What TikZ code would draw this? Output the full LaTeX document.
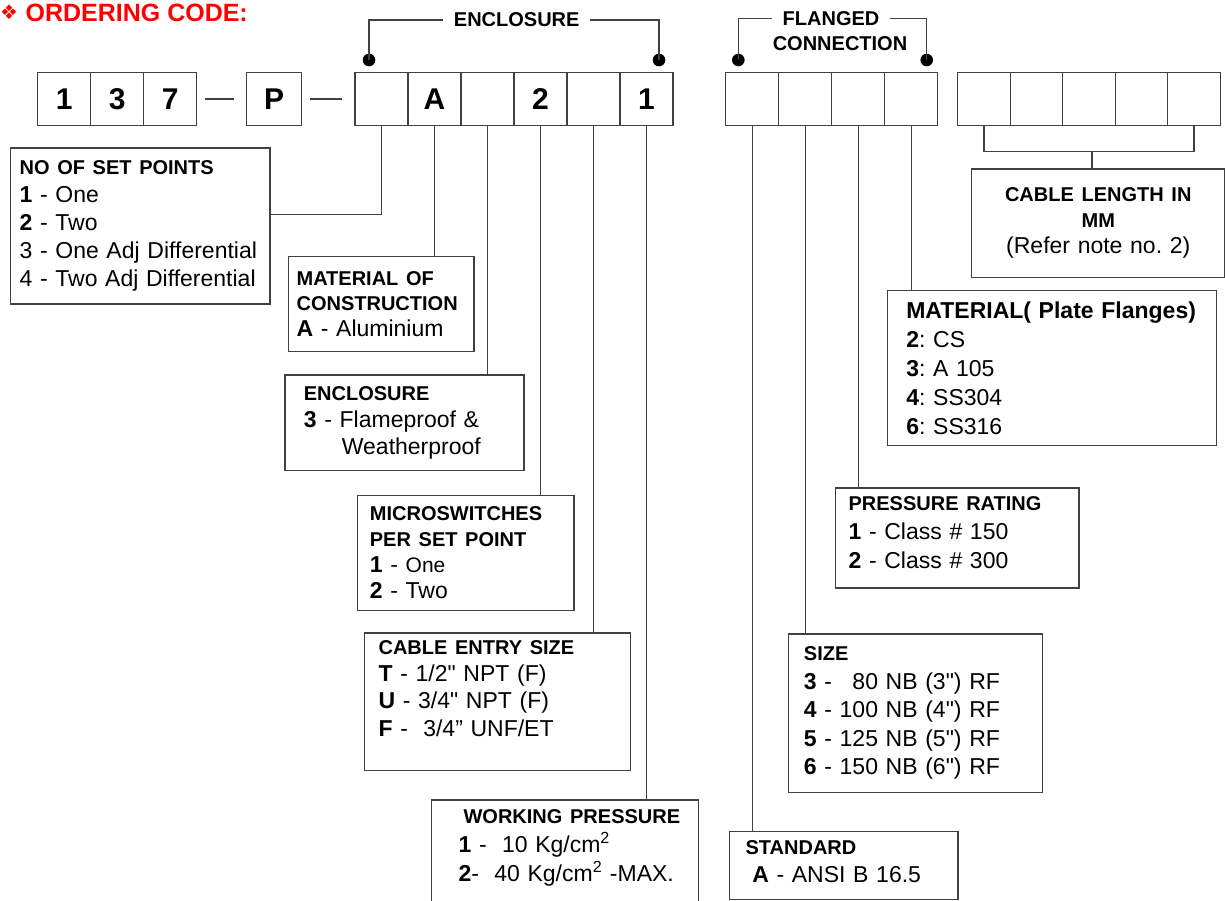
\documentclass[tikz,border=0pt]{standalone}
\usepackage{fontspec}
\setmainfont{Liberation Sans}[Ligatures=TeXOff]
\newfontfamily\dingfont{DejaVu Sans}
\colorlet{rule}{black!75}
\frenchspacing
\newcommand{\hdr}[1]{{\fontsize{20}{24}\selectfont\bfseries #1}}
\newcommand{\bodyat}[1]{\fontsize{23}{#1}\selectfont}
\begin{document}
\begin{tikzpicture}[x=1pt, y=-1pt, node distance=53pt, line width=1.2pt,
    cell/.style={draw=rule, minimum width=53pt, minimum height=53.4pt, inner sep=0pt, outer sep=0pt,
        font=\fontsize{30}{30}\selectfont\bfseries},
    infobox/.style={draw=rule, anchor=north west, align=left, inner ysep=0pt, font=\bodyat{28}},
    hdtext/.style={inner xsep=10pt, inner ysep=0pt, font=\fontsize{20}{24}\selectfont\bfseries},
    blob/.style={circle, fill=black, inner sep=0pt, minimum size=12.6pt},
    joiner/.style={shorten <=8pt, shorten >=13pt}]
    \useasboundingbox (0,0) rectangle (1225,900);

    % heading
    \node (ordsym) [text=red, inner sep=0pt, font=\dingfont\fontsize{20}{20}\selectfont] at (9,12.5) {❖};
    \node (ordhd) [anchor=west, text=red, inner sep=0pt, font=\fontsize{25}{25}\selectfont\bfseries] at (25,12.5) {ORDERING CODE:};

    % code cells
    \node (n1) [cell] at (64.2,99) {1};
    \node (n2) [cell, right of=n1] {3};
    \node (n3) [cell, right of=n2] {7};
    \node (p) [cell, minimum width=55pt] at (274.2,99) {P};
    \node (e1) [cell] at (381.5,99) {};
    \node (e2) [cell, right of=e1] {A};
    \node (e3) [cell, right of=e2] {};
    \node (e4) [cell, right of=e3] {2};
    \node (e5) [cell, right of=e4] {};
    \node (e6) [cell, right of=e5] {1};
    \node (f1) [cell] at (752.2,99) {};
    \node (f2) [cell, right of=f1] {};
    \node (f3) [cell, right of=f2] {};
    \node (f4) [cell, right of=f3] {};
    \node (k1) [cell, minimum width=52.5pt] at (984,99) {};
    \node (k2) [cell, minimum width=52.5pt, node distance=52.5pt, right of=k1] {};
    \node (k3) [cell, minimum width=52.5pt, node distance=52.5pt, right of=k2] {};
    \node (k4) [cell, minimum width=52.5pt, node distance=52.5pt, right of=k3] {};
    \node (k5) [cell, minimum width=52.5pt, node distance=52.5pt, right of=k4] {};

    \draw[rule, joiner] (n3) -- (p);
    \draw[rule, joiner] (p) -- (e1);

    % group brackets
    \node (encl) [hdtext] at (516.7,20) {ENCLOSURE};
    \node (dl) [blob] at (369,60) {};
    \node (dr) [blob] at (659,60) {};
    \draw[rule] (dl.center) |- (encl.west);
    \draw[rule] (encl.east) -| (dr.center);

    \node (flg) [hdtext] at (831,18.3) {FLANGED};
    \node (conn) [hdtext] at (840,43.3) {CONNECTION};
    \node (fl) [blob] at (738.3,60) {};
    \node (fr) [blob] at (926.7,60) {};
    \draw[rule] (fl.center) |- (flg.west);
    \draw[rule] (flg.east) -| (fr.center);

    % option boxes
    \node (setpts) [infobox, text width=241.3pt, inner xsep=9pt, minimum height=156pt, font=\bodyat{28.2}] at (10,147.3)
        {\hdr{NO OF SET POINTS}\\ \textbf{1} - One\\ \textbf{2} - Two\\ 3 - One Adj Differential\\ 4 - Two Adj Differential};
    \node (matl) [infobox, text width=169pt, inner xsep=8.3pt, minimum height=95pt, font=\bodyat{25.5}] at (287.7,255.7)
        {\hdr{MATERIAL OF}\\ \hdr{CONSTRUCTION}\\ \textbf{A} - Aluminium};
    \node (encbox) [infobox, text width=201pt, inner xsep=19pt, minimum height=95.7pt, font=\bodyat{27}] at (284.3,374.3)
        {\hdr{ENCLOSURE}\\ \textbf{3} - Flameproof \&\\ \hspace*{38pt}Weatherproof};
    \node (micro) [infobox, text width=191.4pt, inner xsep=12.6pt, minimum height=115pt, font=\bodyat{26}] at (356.7,495)
        {\hdr{MICROSWITCHES}\\ \hdr{PER SET POINT}\\ \textbf{1} - {\fontsize{21}{26}\selectfont One}\\ \textbf{2} - Two};
    \node (entry) [infobox, text width=238pt, inner xsep=14pt, minimum height=137.7pt, font=\bodyat{27.3}] at (364,632.3)
        {\hdr{CABLE ENTRY SIZE}\\ \textbf{T} - 1/2" NPT (F)\\ \textbf{U} - 3/4" NPT (F)\\ \textbf{F} -\ \ 3/4” UNF/ET\\ \mbox{}};
    \node (wp) [infobox, text width=243pt, inner xsep=12pt, minimum height=120pt, font=\bodyat{29}] at (430.7,799.3)
        {\hspace*{20.3pt}\hdr{WORKING PRESSURE}\\ \hspace*{15.3pt}\textbf{1} -\ \ 10 Kg/cm\textsuperscript{2}\\ \hspace*{15.3pt}\textbf{2}-\ \ 40 Kg/cm\textsuperscript{2} -MAX.\\ \mbox{}};
    \node (std) [infobox, text width=196.3pt, inner xsep=16pt, minimum height=68.3pt, text depth=36pt, font=\bodyat{28}] at (729,830.7)
        {\hdr{STANDARD}\\ \hspace*{6.7pt}\textbf{A} - ANSI B 16.5};
    \node (size) [infobox, text width=222.8pt, inner xsep=15.6pt, minimum height=158.4pt, font=\bodyat{28.5}] at (787.7,633.3)
        {\hdr{SIZE}\\ \textbf{3} - \hphantom{1}80 NB (3") RF\\ \textbf{4} - 100 NB (4") RF\\ \textbf{5} - 125 NB (5") RF\\ \textbf{6} - 150 NB (6") RF};
    \node (prate) [infobox, text width=217.3pt, inner xsep=13pt, minimum height=100pt, text depth=68pt, font=\bodyat{29}] at (835,487.3)
        {\hdr{PRESSURE RATING}\\ \textbf{1} - Class \# 150\\ \textbf{2} - Class \# 300};
    \node (mat) [infobox, text width=291.3pt, inner xsep=19pt, minimum height=155pt, font=\bodyat{29}] at (886.7,290)
        {{\bfseries MATERIAL( Plate Flanges)}\\ \textbf{2}: CS\\ \textbf{3}: A 105\\ \textbf{4}: SS304\\ \textbf{6}: SS316};
    \node (cablen) [infobox, align=center, text width=237.3pt, inner xsep=8pt, minimum height=108.4pt, font=\bodyat{26}] at (971,168.3)
        {\hdr{CABLE LENGTH IN}\\ \hdr{MM}\hspace*{28pt}\\ (Refer note no. 2)};

    % leaders
    \draw[rule] (e1.south) |- ([yshift=11.3pt]setpts.east);
    \draw[rule] (e2.south) -- (e2.south |- matl.north);
    \draw[rule] (e3.south) -- (e3.south |- encbox.north);
    \draw[rule] (e4.south) -- (e4.south |- micro.north);
    \draw[rule] (e5.south) -- (e5.south |- entry.north);
    \draw[rule] (e6.south) -- (e6.south |- wp.north);
    \draw[rule] (f1.south) -- (f1.south |- std.north);
    \draw[rule] (f2.south) -- (f2.south |- size.north);
    \draw[rule] (f3.south) -- (f3.south |- prate.north);
    \draw[rule] (f4.south) -- (f4.south |- mat.north);
    \coordinate (kbr) at (1092,151.7);
    \draw[rule] (k1.south) |- (kbr) -| (k5.south);
    \draw[rule] (kbr) -- (kbr |- cablen.north);
\end{tikzpicture}
\end{document}
